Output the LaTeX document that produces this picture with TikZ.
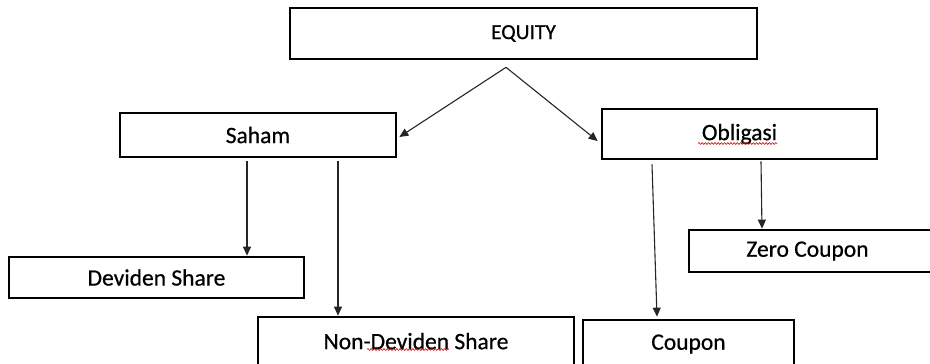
\documentclass[tikz,border=0pt]{standalone}
\usepackage{fontspec}
\setmainfont{Carlito}
\newfontfamily\boxfont{Carlito}[FakeBold=0.6]
\usetikzlibrary{arrows.meta,calc,decorations.pathmorphing}

\tikzset{
  box/.style={draw=black, line width=2.7pt, fill=white, inner sep=0pt,
              font=\boxfont\fontsize{23.5}{27}\selectfont},
  arr/.style={draw=black!85, line width=1.1pt,
              -{Triangle[length=9pt,width=8pt]}},
  spell/.style={draw=red!85!black, line width=0.6pt,
                decorate, decoration={snake, amplitude=0.9pt, segment length=3.2pt}}
}

\begin{document}
\begin{tikzpicture}[x=1pt, y=-1pt]
  \useasboundingbox (0,0) rectangle (930,364);
  \clip (0,0) rectangle (930,364);
  \fill[white] (0,0) rectangle (930,364);

  % boxes
  \node[box, minimum width=467, minimum height=51, font=\boxfont\fontsize{21.5}{25}\selectfont]
       (equity) at (523.5,33.5) {EQUITY};
  \node[box, minimum width=276, minimum height=44] (saham)    at (258,135)   {Saham};
  \node[box, minimum width=275, minimum height=50] (obligasi) at (739.5,134) {Obligasi};
  \node[box, minimum width=295, minimum height=41] (deviden)  at (156.5,277.5) {\raisebox{-3pt}{Deviden Share}};
  \node[box, minimum width=316, minimum height=50] (nondev)   at (416,342)   {\raisebox{2pt}{Non-Deviden Share}};
  \node[box, minimum width=211, minimum height=48] (coupon)   at (688.5,344) {Coupon};
  \node[box, minimum width=247, minimum height=42] (zero)     at (812.5,251) {\raisebox{-3pt}{Zero Coupon}\hspace*{10pt}};

  % split point under the top box and the stubs under the middle boxes
  \coordinate (split) at ($(equity.south)+(-17.5,7)$);
  \coordinate (s1) at ($(saham.south)+(-11,3)$);
  \coordinate (s2) at ($(saham.south)+(80,3)$);
  \coordinate (o1) at ($(obligasi.south)+(-87.5,4)$);
  \coordinate (o2) at ($(obligasi.south)+(21.5,1)$);

  % connectors
  \draw[arr] (split) -- ($(saham.east)+(2,2)$);
  \draw[arr] (split) -- ($(obligasi.west)+(-3,7)$);

  \draw[arr] (s1) -- (s1 |- deviden.north);
  \draw[arr] (s2) -- (s2 |- nondev.north);

  \draw[arr] (o1) -- ($(coupon.north)+(-31.5,-2)$);
  \draw[arr] (o2) -- ($(o2 |- zero.north)+(1,0)$);

  % wavy marks under two words
  \draw[spell] (698,143.5) -- (777,143.5);
  \draw[spell] (367,349.5) -- (449,349.5);
\end{tikzpicture}
\end{document}
